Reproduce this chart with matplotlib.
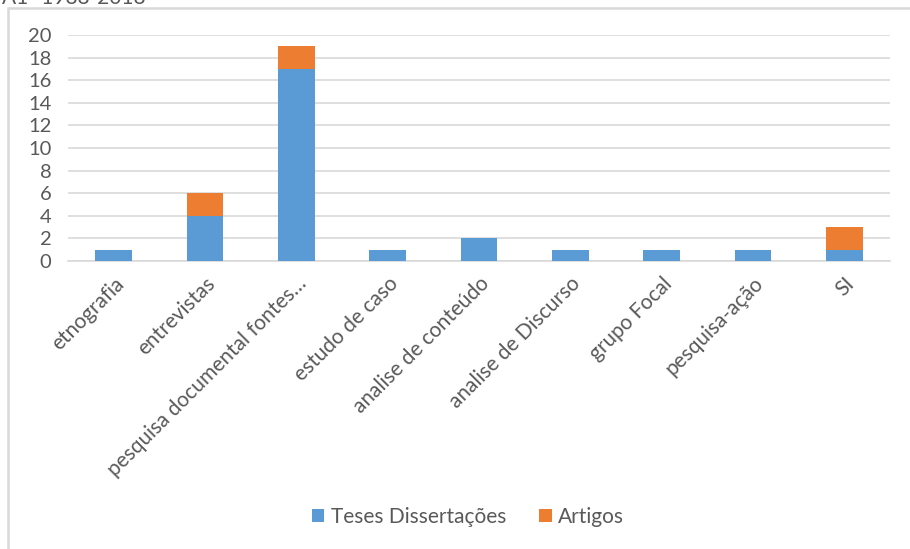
import matplotlib
matplotlib.use("Agg")
import matplotlib.pyplot as plt
import numpy as np
from matplotlib.patches import Rectangle

categories = [
    "etnografia",
    "entrevistas",
    "pesquisa documental fontes…",
    "estudo de caso",
    "analise de conteúdo",
    "analise de Discurso",
    "grupo Focal",
    "pesquisa-ação",
    "SI",
]
teses = [1, 4, 17, 1, 2, 1, 1, 1, 1]
artigos = [0, 2, 2, 0, 0, 0, 0, 0, 2]
y_ticks = list(range(0, 21, 2))

BLUE = "#5b9bd5"
ORANGE = "#ed7d31"
GREY_TEXT = "#595959"
GRID = "#d9d9d9"

plt.rcParams["font.family"] = ["Lato", "DejaVu Sans"]

W, H = 910, 549
fig = plt.figure(figsize=(W / 100, H / 100), dpi=100)

# chart border, clipped on the right and bottom
fig.patches.append(Rectangle((8 / W, -0.1), 1.2, 1 - 8 / H + 0.1,
                             transform=fig.transFigure, fill=False,
                             edgecolor=GRID, linewidth=1.8))
fig.text(2 / W, 1.0 + 2 / H, "A1- 1988-2018", fontsize=15, color=GREY_TEXT,
         ha="left", va="center")

ax = fig.add_axes([68 / W, 1 - 261 / H, (890 - 68) / W, (261 - 35) / H])
x = np.arange(len(categories))
ax.bar(x, teses, width=0.4, color=BLUE, label="Teses Dissertações", zorder=3)
ax.bar(x, artigos, width=0.4, bottom=teses, color=ORANGE, label="Artigos", zorder=3)

ax.set_xlim(-0.5, len(categories) - 0.5)
ax.set_ylim(0, 20)
ax.set_yticks(y_ticks)
ax.yaxis.grid(True, color=GRID, linewidth=1.2, zorder=0)
ax.set_axisbelow(True)
for side in ["top", "right", "left"]:
    ax.spines[side].set_visible(False)
ax.spines["bottom"].set_color(GRID)
ax.spines["bottom"].set_linewidth(1.2)
ax.tick_params(axis="y", length=0, labelsize=14.5, colors=GREY_TEXT, pad=12)
ax.tick_params(axis="x", length=0, labelsize=15, colors=GREY_TEXT, pad=9)
ax.set_xticks(x)
ax.set_xticklabels(categories, rotation=45, ha="right", rotation_mode="anchor")

fig.legend(loc="center", bbox_to_anchor=(468 / W, 1 - 517 / H), ncol=2,
           frameon=False, fontsize=15, labelcolor=GREY_TEXT, handlelength=0.6,
           handleheight=0.6, handletextpad=0.3, columnspacing=1.6)

fig.savefig("out.png", dpi=100)
